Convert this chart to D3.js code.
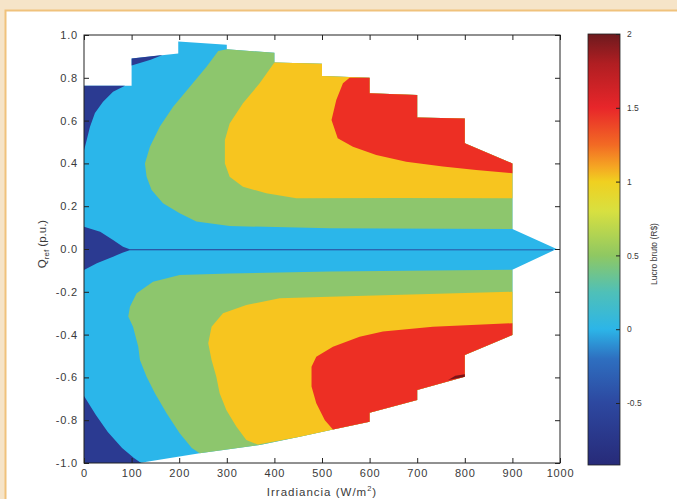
<!DOCTYPE html>
<html><head><meta charset="utf-8">
<script src="https://cdn.jsdelivr.net/npm/d3@7/dist/d3.min.js"></script>
<style>html,body{margin:0;padding:0;background:#f6e4c8;} svg{display:block;font-family:"Liberation Sans",Arial,sans-serif;}</style>
</head><body><svg id="c" width="677" height="499"></svg>
<script>
// ---------- data (irradiance W/m2, Q_ref p.u.) ----------
const xTicks = [0,100,200,300,400,500,600,700,800,900,1000];
const yTicks = [-1,-0.8,-0.6,-0.4,-0.2,0,0.2,0.4,0.6,0.8,1];
const yTickLabels = ["-1.0","-0.8","-0.6","-0.4","-0.2","0.0","0.2","0.4","0.6","0.8","1.0"];
const cbTicks = [-0.5,0,0.5,1,1.5,2];
const cbTickLabels = ["-0.5","0","0.5","1","1.5","2"];
const cbDomain = [-0.92, 2];
const levels = [-0.92, 0, 0.5, 1, 1.5, 2];

// domain of computed data
const topEdge = [[0,0.763],[100,0.763],[100,0.89],[198,0.914],[198,0.97],[300,0.955],[300,0.933],[400,0.917],[400,0.872],[500,0.866],[500,0.808],[600,0.80],[600,0.728],[700,0.72],[700,0.615],[800,0.61],[800,0.494],[900,0.40]];
const rightEdge = [[900,0.093],[993,0],[900,-0.097]];
const bottomEdge = [[900,-0.402],[800,-0.495],[800,-0.597],[700,-0.659],[700,-0.706],[600,-0.765],[600,-0.807],[523,-0.843],[453,-0.877],[369,-0.916],[243,-0.955],[132,-0.994],[118,-1],[0,-1]];

// regions with value < 0 inside the domain
const negTopLeft = [[0,0.763],[86,0.763],[61,0.735],[40,0.688],[23,0.635],[12.6,0.571],[5.7,0.509],[0,0.46]];
const negTopStrip = [[100,0.89],[165,0.906],[140,0.884],[100,0.858]];
const negCenter = [[0,0.104],[34,0.081],[61,0.042],[82,0.011],[96,-0.001],[985,-0.002],[985,-0.006],[96,-0.006],[82,-0.016],[61,-0.036],[27,-0.067],[0,-0.098]];
const negBottomLeft = [[0,-0.687],[25,-0.776],[50,-0.855],[80,-0.93],[105,-0.977],[120,-1],[0,-1]];

// regions >= 0.5
const green05Upper = [[900,0.093],[516,0.097],[306,0.107],[236,0.128],[201,0.167],[166,0.214],[142,0.276],[131.5,0.338],[128,0.40],[138.5,0.478],[159.4,0.572],[187.3,0.665],[222.4,0.758],[257.4,0.852],[282,0.925],[300,0.933],[400,0.917],[400,0.872],[500,0.866],[500,0.808],[600,0.80],[600,0.728],[700,0.72],[700,0.615],[800,0.61],[800,0.494],[900,0.40]];
const green05Lower = [[900,-0.097],[516,-0.105],[306,-0.114],[201,-0.121],[145,-0.153],[110.6,-0.207],[96.5,-0.27],[93,-0.316],[103,-0.363],[114,-0.457],[117.5,-0.519],[131.5,-0.597],[149,-0.674],[173.5,-0.768],[201,-0.861],[226.5,-0.93],[243,-0.955],[369,-0.916],[453,-0.877],[523,-0.843],[600,-0.807],[600,-0.765],[700,-0.706],[700,-0.659],[800,-0.597],[800,-0.495],[900,-0.402]];
// regions >= 1
const yellow1Upper = [[900,0.237],[663,0.238],[446,0.237],[383,0.26],[334,0.291],[306,0.338],[296,0.40],[296,0.509],[306,0.587],[334,0.681],[369,0.774],[400,0.872],[500,0.866],[500,0.808],[600,0.80],[600,0.728],[700,0.72],[700,0.615],[800,0.61],[800,0.494],[900,0.40]];
const yellow1Lower = [[900,-0.2],[516,-0.223],[411,-0.23],[341,-0.262],[292,-0.30],[268,-0.363],[261,-0.441],[268,-0.519],[278,-0.597],[285,-0.674],[299,-0.752],[320,-0.83],[341,-0.893],[365,-0.914],[453,-0.877],[523,-0.843],[600,-0.807],[600,-0.765],[700,-0.706],[700,-0.659],[800,-0.597],[800,-0.495],[900,-0.402]];
// regions >= 1.5
const red15Upper = [[900,0.354],[824,0.369],[754,0.385],[677,0.408],[614,0.439],[565,0.478],[533,0.517],[520,0.603],[530,0.696],[544,0.774],[558,0.80],[600,0.80],[600,0.728],[700,0.72],[700,0.615],[800,0.61],[800,0.494],[900,0.40]];
const red15Lower = [[900,-0.347],[733,-0.363],[628,-0.386],[579,-0.41],[523,-0.457],[488,-0.503],[478,-0.55],[478,-0.643],[488,-0.721],[506,-0.80],[523,-0.843],[600,-0.807],[600,-0.765],[700,-0.706],[700,-0.659],[800,-0.597],[800,-0.495],[900,-0.402]];
// regions >= 2
const darkRed2 = [[765,-0.612],[800,-0.597],[800,-0.585],[780,-0.592]];

// colour bar gradient stops (value, colour)
const cbStopValues = [-0.92,-0.5,-0.2,0,0.25,0.5,0.8,1.0,1.1,1.25,1.5,1.8,2.0];
const cbStopColors = ["#272a78","#2d48a0","#2e6fc0","#2cb5e8","#4fc0b8","#8fc862","#d8e040","#f0d020","#f5a623","#f26a24","#e8262a","#b01e22","#6d1a1e"];
const bandColors = ["#2b3a91","#2bb6ea","#8dc66d","#f7c51f","#ed2f24","#7c1317"];

// ---------- drawing ----------
const svg = d3.select("#c");
svg.append("rect").attr("width",677).attr("height",499).attr("fill","#f6e4c8");
svg.append("rect").attr("x",5.5).attr("y",10.5).attr("width",700).attr("height",520)
  .attr("fill","#ffffff").attr("stroke","#f0c27c").attr("stroke-width",2);

const x = d3.scaleLinear().domain([0,1000]).range([84,560]);
const y = d3.scaleLinear().domain([-1,1]).range([463,35]);
const line = d3.line().x(d=>x(d[0])).y(d=>y(d[1]));
const poly = d => line(d) + "Z";

const g = svg.append("g");
// band >= 0 covers the domain, < 0 patches drawn over it
g.append("path").attr("d", poly(topEdge.concat(rightEdge, bottomEdge))).attr("fill", bandColors[1]);
[negTopLeft, negTopStrip, negCenter, negBottomLeft].forEach(p =>
  g.append("path").attr("d", poly(p)).attr("fill", bandColors[0]));
[[green05Upper,2],[green05Lower,2],[yellow1Upper,3],[yellow1Lower,3],[red15Upper,4],[red15Lower,4],[darkRed2,5]].forEach(([p,i]) =>
  g.append("path").attr("d", poly(p)).attr("fill", bandColors[i]));

// axes
const tickFont = sel => sel.selectAll("text").attr("font-size","11px").attr("fill","#3a3a3a").attr("letter-spacing","0.8px");
const ax = svg.append("g").attr("transform","translate(0,463)")
  .call(d3.axisBottom(x).tickValues(xTicks).tickSizeInner(-5).tickSizeOuter(0).tickPadding(6).tickFormat(d=>String(d)));
ax.call(tickFont);
svg.append("g").attr("transform","translate(0,35)")
  .call(d3.axisTop(x).tickValues(xTicks).tickSizeInner(-5).tickSizeOuter(0).tickFormat(""));
const ay = svg.append("g").attr("transform","translate(84,0)")
  .call(d3.axisLeft(y).tickValues(yTicks).tickSizeInner(-5).tickSizeOuter(0).tickPadding(6).tickFormat((d,i)=>yTickLabels[i]));
ay.call(tickFont);
svg.append("g").attr("transform","translate(560,0)")
  .call(d3.axisRight(y).tickValues(yTicks).tickSizeInner(-5).tickSizeOuter(0).tickFormat(""));
svg.selectAll(".domain").remove();
svg.selectAll(".tick line").attr("stroke","#222");
svg.append("rect").attr("x",84).attr("y",35).attr("width",476).attr("height",428)
  .attr("fill","none").attr("stroke","#222").attr("stroke-width",1);

// axis titles
const xt = svg.append("text").attr("x",322).attr("y",496).attr("text-anchor","middle")
  .attr("font-size","11.5px").attr("fill","#3a3a3a").attr("letter-spacing","1px");
xt.append("tspan").text("Irradiancia (W/m");
xt.append("tspan").attr("font-size","7.5px").attr("dy","-5").text("2");
xt.append("tspan").attr("dy","5").text(")");

const yt = svg.append("text").attr("transform","translate(46,244) rotate(-90)").attr("text-anchor","middle")
  .attr("font-size","11.5px").attr("fill","#3a3a3a");
yt.append("tspan").text("Q");
yt.append("tspan").attr("font-size","8px").attr("dy","3").text("ref");
yt.append("tspan").attr("dy","-3").text(" (p.u.)");

// colour bar
const cy = d3.scaleLinear().domain(cbDomain).range([465,34]);
const defs = svg.append("defs");
const grad = defs.append("linearGradient").attr("id","cbg").attr("x1",0).attr("y1",1).attr("x2",0).attr("y2",0);
cbStopValues.forEach((v,i)=> grad.append("stop")
  .attr("offset",(v-cbDomain[0])/(cbDomain[1]-cbDomain[0])).attr("stop-color",cbStopColors[i]));
svg.append("rect").attr("x",588).attr("y",34).attr("width",32).attr("height",431)
  .attr("fill","url(#cbg)").attr("stroke","#222").attr("stroke-width",0.8);
const cb = svg.append("g").attr("transform","translate(620,0)")
  .call(d3.axisRight(cy).tickValues(cbTicks).tickSizeInner(-4).tickSizeOuter(0).tickPadding(7).tickFormat((d,i)=>cbTickLabels[i]));
cb.select(".domain").remove();
cb.selectAll(".tick line").attr("stroke","#222");
cb.selectAll("text").attr("font-size","8.5px").attr("fill","#3a3a3a");
svg.append("text").attr("transform","translate(657,254) rotate(-90)").attr("text-anchor","middle")
  .attr("font-size","8.5px").attr("fill","#3a3a3a").text("Lucro bruto (R$)");
</script>
</body></html>
